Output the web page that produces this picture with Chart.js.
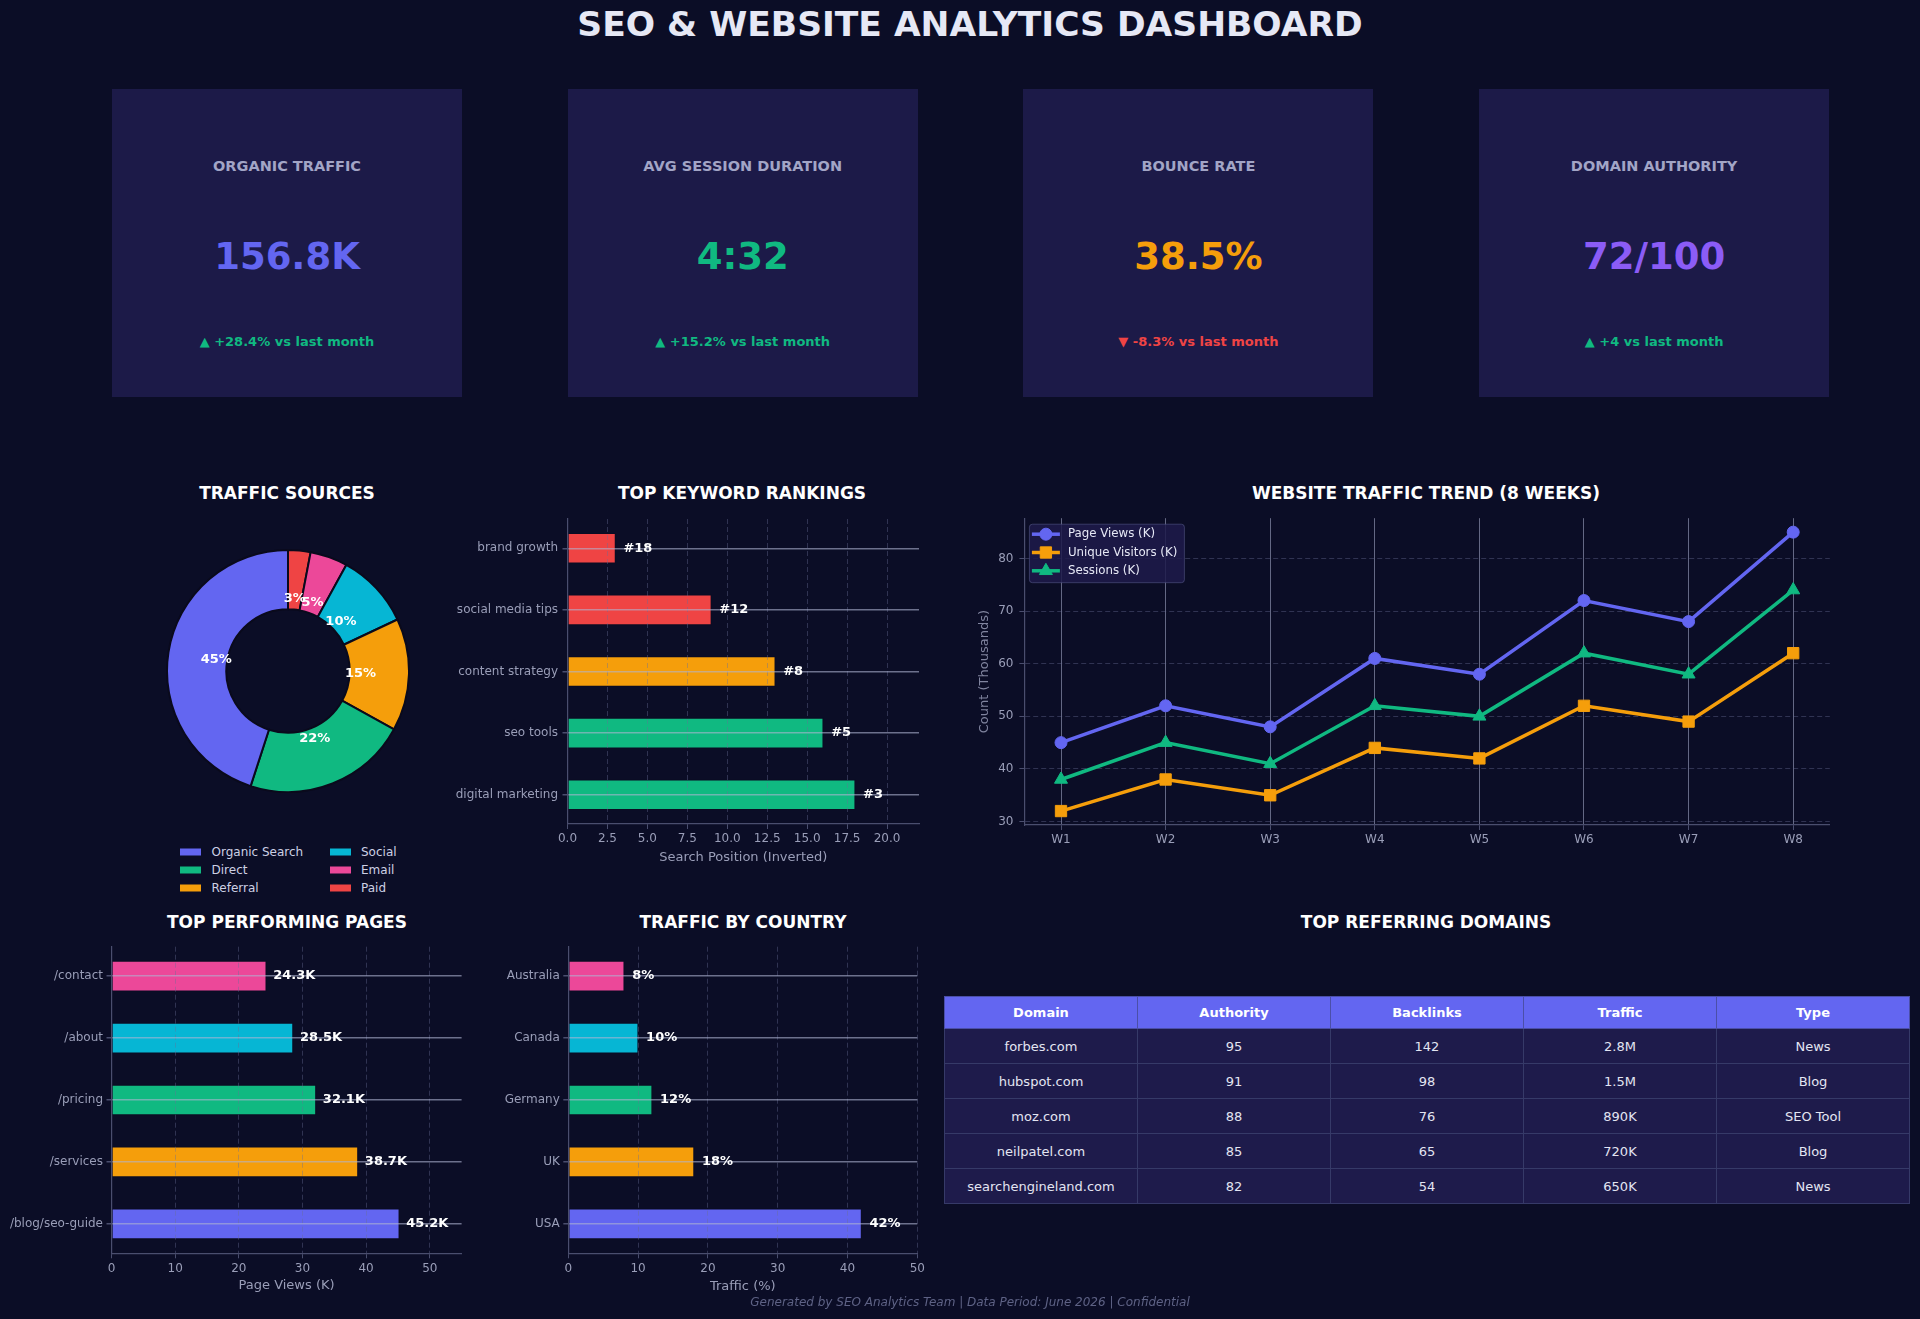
<!DOCTYPE html>
<html>
<head>
<meta charset="utf-8">
<title>SEO & Website Analytics Dashboard</title>
<script src="https://cdn.jsdelivr.net/npm/chart.js@4.4.1/dist/chart.umd.min.js"></script>
<style>
  html, body { margin:0; padding:0; }
  body { width:1920px; height:1319px; background:#0b0d26; position:relative; overflow:hidden; font-family:'DejaVu Sans', sans-serif; color:#fff; }
  .t { position:absolute; transform:translate(-50%,-50%); white-space:nowrap; line-height:1; }
  .card { position:absolute; width:350px; height:308px; background:#1c1a48; }
  .box { position:absolute; }
  .leg { position:absolute; font-size:12px; color:#cdd0e4; white-space:nowrap; line-height:1; transform:translateY(-50%); }
  .patch { position:absolute; width:21px; height:7px; transform:translateY(-50%); }
  table.dom { position:absolute; left:944px; top:996px; width:966px; border-collapse:collapse; table-layout:fixed; font-size:13px; }
  table.dom th { background:#6366f1; color:#fff; font-weight:bold; border:1px solid #4b4fa8; height:31px; padding:0; text-align:center; }
  table.dom td { background:#1e1b4b; color:#e3e5f2; border:1px solid #363a68; height:34px; padding:0; text-align:center; }
</style>
</head>
<body>
<script>
// ================= DATA =================
const dashboardTitle = 'SEO & WEBSITE ANALYTICS DASHBOARD';
const footerText = 'Generated by SEO Analytics Team | Data Period: June 2026 | Confidential';

const kpiLabels = ['ORGANIC TRAFFIC', 'AVG SESSION DURATION', 'BOUNCE RATE', 'DOMAIN AUTHORITY'];
const kpiValues = ['156.8K', '4:32', '38.5%', '72/100'];
const kpiDeltas = ['▲ +28.4% vs last month', '▲ +15.2% vs last month', '▼ -8.3% vs last month', '▲ +4 vs last month'];
const kpiDeltaUp = [true, true, false, true];

const sourceLabels = ['Organic Search', 'Direct', 'Referral', 'Social', 'Email', 'Paid'];
const sourceShares = [45, 22, 15, 10, 5, 3];

const keywordNames = ['digital marketing', 'seo tools', 'content strategy', 'social media tips', 'brand growth'];
const keywordRanks = [3, 5, 8, 12, 18];
const keywordScores = [18, 16, 13, 9, 3];   // bar length = inverted search position
const keywordTicks = [0, 2.5, 5, 7.5, 10, 12.5, 15, 17.5, 20];

const weeks = ['W1', 'W2', 'W3', 'W4', 'W5', 'W6', 'W7', 'W8'];
const pageViews = [45, 52, 48, 61, 58, 72, 68, 85];
const uniqueVisitors = [32, 38, 35, 44, 42, 52, 49, 62];
const sessions = [38, 45, 41, 52, 50, 62, 58, 74];
const trendTicks = [30, 40, 50, 60, 70, 80];

const pageNames = ['/blog/seo-guide', '/services', '/pricing', '/about', '/contact'];
const pageViewsK = [45.2, 38.7, 32.1, 28.5, 24.3];
const pageTicks = [0, 10, 20, 30, 40, 50];

const countries = ['USA', 'UK', 'Germany', 'Canada', 'Australia'];
const countryShares = [42, 18, 12, 10, 8];
const countryTicks = [0, 10, 20, 30, 40, 50];

const domainHeaders = ['Domain', 'Authority', 'Backlinks', 'Traffic', 'Type'];
const domainNames = ['forbes.com', 'hubspot.com', 'moz.com', 'neilpatel.com', 'searchengineland.com'];
const domainAuthority = [95, 91, 88, 85, 82];
const domainBacklinks = [142, 98, 76, 65, 54];
const domainTraffic = ['2.8M', '1.5M', '890K', '720K', '650K'];
const domainTypes = ['News', 'Blog', 'SEO Tool', 'Blog', 'News'];

// ================= STYLE =================
const INDIGO = '#6366f1', GREEN = '#10b981', AMBER = '#f59e0b', CYAN = '#06b6d4', PINK = '#ec4899', RED = '#ef4444', VIOLET = '#8b5cf6';
const TICK = '#9a9eb8';
const SPINE = '#4a4e6e';
const GRID_SOLID = 'rgba(175,180,210,0.6)';
const GRID_DASH = 'rgba(105,110,150,0.4)';
const kpiValueColors = [INDIGO, GREEN, AMBER, VIOLET];
const sourceColors = [INDIGO, GREEN, AMBER, CYAN, PINK, RED];
const keywordColors = [GREEN, GREEN, AMBER, RED, RED];
const pageColors = [INDIGO, AMBER, GREEN, CYAN, PINK];
const countryColors = [INDIGO, AMBER, GREEN, CYAN, PINK];

Chart.defaults.font.family = "'DejaVu Sans', sans-serif";
Chart.defaults.color = TICK;

// ================= HELPERS =================
function addText(txt, x, y, css) {
  const d = document.createElement('div');
  d.className = 't';
  d.textContent = txt;
  d.style.left = x + 'px';
  d.style.top = y + 'px';
  Object.assign(d.style, css || {});
  document.body.appendChild(d);
  return d;
}
function addBox(left, top, w, h) {
  const d = document.createElement('div');
  d.className = 'box';
  d.style.left = left + 'px'; d.style.top = top + 'px';
  d.style.width = w + 'px'; d.style.height = h + 'px';
  const c = document.createElement('canvas');
  d.appendChild(c);
  document.body.appendChild(d);
  return c;
}

// ================= HEADER / KPI =================
addText(dashboardTitle, 970, 24, {fontSize: '34.5px', fontWeight: 'bold', color: '#e6e8f5'});

kpiLabels.forEach((lab, i) => {
  const left = 112 + i * 455.7;
  const card = document.createElement('div');
  card.className = 'card';
  card.style.left = left + 'px';
  card.style.top = '89px';
  document.body.appendChild(card);
  const cx = left + 175;
  addText(lab, cx, 166, {fontSize: '14.5px', fontWeight: 'bold', color: '#a2a5c6'});
  addText(kpiValues[i], cx, 256, {fontSize: '37px', fontWeight: 'bold', color: kpiValueColors[i]});
  addText(kpiDeltas[i], cx, 341, {fontSize: '13px', fontWeight: 'bold', color: kpiDeltaUp[i] ? GREEN : RED});
});

// ================= SECTION TITLES =================
const secCss = {fontSize: '17px', fontWeight: 'bold', color: '#ffffff'};
addText('TRAFFIC SOURCES', 287, 493, secCss);
addText('TOP KEYWORD RANKINGS', 742, 493, secCss);
addText('WEBSITE TRAFFIC TREND (8 WEEKS)', 1426, 493, secCss);
addText('TOP PERFORMING PAGES', 287, 922, secCss);
addText('TRAFFIC BY COUNTRY', 743, 922, secCss);
addText('TOP REFERRING DOMAINS', 1426, 922, secCss);

// ================= DONUT =================
const donutPct = {
  id: 'donutPct',
  afterDatasetsDraw(chart) {
    const ctx = chart.ctx;
    const meta = chart.getDatasetMeta(0);
    const vals = chart.data.datasets[0].data;
    ctx.save();
    ctx.font = "bold 13px 'DejaVu Sans'";
    ctx.fillStyle = '#ffffff';
    ctx.textAlign = 'center';
    ctx.textBaseline = 'middle';
    meta.data.forEach((arc, i) => {
      const p = arc.getProps(['x', 'y', 'startAngle', 'endAngle', 'outerRadius'], true);
      const mid = (p.startAngle + p.endAngle) / 2;
      const r = p.outerRadius * 0.6;
      ctx.fillText(vals[i] + '%', p.x + Math.cos(mid) * r, p.y + Math.sin(mid) * r);
    });
    ctx.restore();
  }
};
new Chart(addBox(166, 549, 244, 244), {
  type: 'doughnut',
  data: {
    labels: sourceLabels.slice().reverse(),
    datasets: [{
      data: sourceShares.slice().reverse(),
      backgroundColor: sourceColors.slice().reverse(),
      borderColor: '#0a0a1c',
      borderWidth: 2
    }]
  },
  options: {
    animation: false, responsive: true, maintainAspectRatio: false,
    cutout: '51%',
    layout: {padding: 0},
    plugins: {legend: {display: false}, tooltip: {enabled: false}}
  },
  plugins: [donutPct]
});
// donut legend (2 columns, column-major)
sourceLabels.forEach((lab, i) => {
  const col = Math.floor(i / 3), row = i % 3;
  const y = 852 + row * 17.9;
  const px = col === 0 ? 179.5 : 329.5;
  const tx = col === 0 ? 211.5 : 361;
  const p = document.createElement('div');
  p.className = 'patch';
  p.style.left = px + 'px'; p.style.top = y + 'px'; p.style.background = sourceColors[i];
  document.body.appendChild(p);
  const t = document.createElement('div');
  t.className = 'leg';
  t.textContent = lab;
  t.style.left = tx + 'px'; t.style.top = y + 'px';
  document.body.appendChild(t);
});

// ================= HORIZONTAL BAR HELPER =================
function barLabels(texts, dx) {
  return {
    id: 'barLabels',
    afterDraw(chart) {
      const ctx = chart.ctx;
      const meta = chart.getDatasetMeta(0);
      ctx.save();
      ctx.font = "bold 13px 'DejaVu Sans'";
      ctx.fillStyle = '#ffffff';
      ctx.textAlign = 'left';
      ctx.textBaseline = 'middle';
      meta.data.forEach((bar, i) => ctx.fillText(texts[i], bar.x + dx, bar.y));
      ctx.restore();
    }
  };
}
function makeHBar(box, area, names, values, colors, ticks, xMax, tickFmt, xTitle, titleCenterY, yPad, labelTexts, dx) {
  const canvas = addBox(box.left, box.top, box.width, box.height);
  const xBoxH = box.top + box.height - area.B;
  const titlePad = (box.top + box.height) - titleCenterY - 13 * 1.2 / 2;
  return new Chart(canvas, {
    type: 'bar',
    data: {datasets: [{
      data: values.map((v, i) => ({x: v, y: i})),
      backgroundColor: colors,
      borderColor: 'rgba(12,12,32,0.55)',
      borderWidth: 1,
      borderSkipped: false,
      barThickness: 30
    }]},
    options: {
      indexAxis: 'y', animation: false, responsive: true, maintainAspectRatio: false,
      layout: {padding: {top: area.T - box.top, right: box.left + box.width - area.R, left: 0, bottom: 0}},
      plugins: {legend: {display: false}, tooltip: {enabled: false}},
      scales: {
        x: {
          type: 'linear', min: 0, max: xMax, offset: false,
          afterBuildTicks: s => { s.ticks = ticks.map(v => ({value: v})); },
          afterFit: s => { s.height = xBoxH; },
          ticks: {callback: tickFmt, color: TICK, font: {size: 12}, padding: 3, maxRotation: 0, autoSkip: false},
          grid: {offset: false, color: GRID_DASH, lineWidth: 1, z: 1, drawTicks: true, tickLength: 5, tickColor: SPINE, tickBorderDash: []},
          border: {display: true, color: SPINE, width: 1.2, dash: [5, 3], z: 1},
          title: {display: true, text: xTitle, color: TICK, font: {size: 13}, padding: {top: 0, bottom: titlePad}}
        },
        y: {
          type: 'linear', min: -0.475, max: 4.475, offset: false,
          afterBuildTicks: s => { s.ticks = names.map((n, i) => ({value: i})); },
          afterFit: s => { s.width = area.L - box.left; },
          ticks: {callback: v => names[v], color: TICK, font: {size: 12}, padding: yPad, autoSkip: false},
          grid: {offset: false, color: GRID_SOLID, lineWidth: 1.5, z: 1, drawTicks: true, tickLength: 5, tickColor: SPINE},
          border: {display: true, color: SPINE, width: 1.2, z: 1}
        }
      }
    },
    plugins: [barLabels(labelTexts, dx)]
  });
}

// ================= KEYWORD RANKINGS =================
makeHBar({left: 380, top: 505, width: 560, height: 375},
         {L: 567.5, R: 919, T: 519, B: 824},
         keywordNames, keywordScores, keywordColors, keywordTicks, 22,
         v => Number(v).toFixed(1), 'Search Position (Inverted)', 858, 4.5,
         keywordRanks.map(r => '#' + r), 8);

// ================= TOP PAGES =================
makeHBar({left: 0, top: 932, width: 480, height: 386},
         {L: 111.5, R: 461.6, T: 946.7, B: 1253.3},
         pageNames, pageViewsK, pageColors, pageTicks, 55,
         v => String(v), 'Page Views (K)', 1286, 3.5,
         pageViewsK.map(v => v.toFixed(1) + 'K'), 7);

// ================= COUNTRIES =================
makeHBar({left: 470, top: 932, width: 465, height: 386},
         {L: 568.3, R: 917.3, T: 946.7, B: 1253.3},
         countries, countryShares, countryColors, countryTicks, 50,
         v => String(v), 'Traffic (%)', 1287, 3.5,
         countryShares.map(v => v + '%'), 8);

// ================= TRAFFIC TREND =================
const trendLegend = {
  id: 'trendLegend',
  afterDatasetsDraw(chart) {
    const ctx = chart.ctx, a = chart.chartArea;
    const x0 = a.left + 5, y0 = a.top + 6, w = 155, h = 58.5;
    ctx.save();
    ctx.fillStyle = 'rgba(30,27,75,0.85)';
    ctx.strokeStyle = 'rgba(90,92,140,0.55)';
    ctx.lineWidth = 1;
    ctx.beginPath();
    if (ctx.roundRect) ctx.roundRect(x0, y0, w, h, 3); else ctx.rect(x0, y0, w, h);
    ctx.fill(); ctx.stroke();
    ctx.font = "11.8px 'DejaVu Sans'";
    ctx.textBaseline = 'middle';
    ctx.textAlign = 'left';
    chart.data.datasets.forEach((ds, i) => {
      const yy = y0 + 10 + i * 18.3;
      ctx.strokeStyle = ds.borderColor;
      ctx.lineWidth = 3.5;
      ctx.beginPath();
      ctx.moveTo(x0 + 2.5, yy); ctx.lineTo(x0 + 30.5, yy);
      ctx.stroke();
      ctx.fillStyle = ds.borderColor;
      ctx.strokeStyle = ds.borderColor;
      ctx.lineWidth = 1;
      Chart.helpers.drawPoint(ctx, {pointStyle: ds.pointStyle, radius: ds.pointRadius, rotation: 0, borderWidth: 1}, x0 + 16.5, yy);
      ctx.fillStyle = '#e6e8f5';
      ctx.fillText(ds.label, x0 + 38.5, yy);
    });
    ctx.restore();
  }
};
function lineDs(label, values, color, style, radius) {
  return {
    label, data: values.map((v, i) => ({x: i, y: v})),
    borderColor: color, backgroundColor: color,
    pointStyle: style, pointRadius: radius, pointBackgroundColor: color, pointBorderColor: color, pointBorderWidth: 1,
    borderWidth: 3.5, tension: 0, fill: false
  };
}
new Chart(addBox(960, 505, 890, 375), {
  type: 'line',
  data: {datasets: [
    lineDs('Page Views (K)', pageViews, INDIGO, 'circle', 6),
    lineDs('Unique Visitors (K)', uniqueVisitors, AMBER, 'rect', 8),
    lineDs('Sessions (K)', sessions, GREEN, 'triangle', 7.5)
  ]},
  options: {
    animation: false, responsive: true, maintainAspectRatio: false,
    layout: {padding: {top: 13, right: 20.2, left: 0, bottom: 0}},
    plugins: {legend: {display: false}, tooltip: {enabled: false}},
    scales: {
      x: {
        type: 'linear', min: -0.35, max: 7.35,
        afterBuildTicks: s => { s.ticks = weeks.map((w, i) => ({value: i})); },
        afterFit: s => { s.height = 55; },
        ticks: {callback: v => weeks[v], color: TICK, font: {size: 12}, padding: 3, maxRotation: 0, autoSkip: false},
        grid: {color: 'rgba(175,180,210,0.55)', lineWidth: 1, drawTicks: true, tickLength: 5, tickColor: SPINE},
        border: {display: true, color: SPINE, width: 1.2}
      },
      y: {
        type: 'linear', min: 29.35, max: 87.65,
        afterBuildTicks: s => { s.ticks = trendTicks.map(v => ({value: v})); },
        afterFit: s => { s.width = 64.4; },
        ticks: {color: TICK, font: {size: 12}, padding: 6, autoSkip: false},
        grid: {color: GRID_DASH, lineWidth: 1, drawTicks: true, tickLength: 5, tickColor: SPINE, tickBorderDash: []},
        border: {display: true, color: SPINE, width: 1.2, dash: [5, 3]},
        title: {display: true, text: 'Count (Thousands)', color: '#80849f', font: {size: 13}, padding: {top: 17, bottom: 0}}
      }
    }
  },
  plugins: [trendLegend]
});

// ================= REFERRING DOMAINS TABLE =================
(function () {
  const tbl = document.createElement('table');
  tbl.className = 'dom';
  const thead = document.createElement('tr');
  domainHeaders.forEach(h => { const th = document.createElement('th'); th.textContent = h; thead.appendChild(th); });
  tbl.appendChild(thead);
  domainNames.forEach((d, i) => {
    const tr = document.createElement('tr');
    [d, domainAuthority[i], domainBacklinks[i], domainTraffic[i], domainTypes[i]].forEach(v => {
      const td = document.createElement('td'); td.textContent = v; tr.appendChild(td);
    });
    tbl.appendChild(tr);
  });
  document.body.appendChild(tbl);
})();

// ================= FOOTER =================
addText(footerText, 970, 1302, {fontSize: '12px', fontStyle: 'italic', color: '#5e6285'});
</script>
</body>
</html>
